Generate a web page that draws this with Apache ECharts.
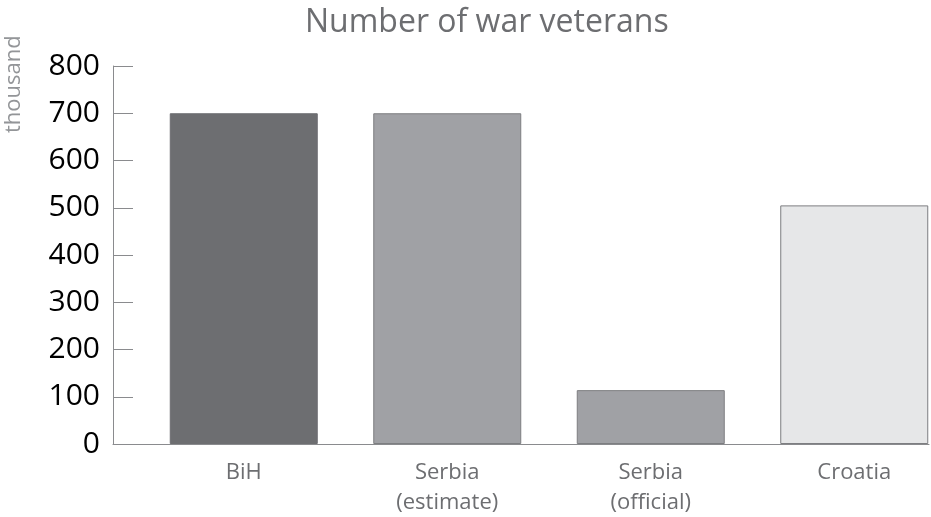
<!DOCTYPE html>
<html><head><meta charset="utf-8">
<script src="https://cdn.jsdelivr.net/npm/echarts@6/dist/echarts.min.js"></script>
<style>html,body{margin:0;padding:0;background:#fff}#c{width:931px;height:517px}</style>
</head><body><div id="c"></div>
<script>
const categories = ['BiH', 'Serbia\n(estimate)', 'Serbia\n(official)', 'Croatia'];
const values = [700, 700, 114, 505];
const barColors = ['#6d6e71', '#a0a1a5', '#a0a1a5', '#e6e7e8'];
const titleText = 'Number of war veterans';
const unitText = 'thousand';
const yMin = 0, yMax = 800, yStep = 100;

const font = '"Open Sans", Lato, sans-serif';
const chart = echarts.init(document.getElementById('c'), null, {renderer: 'canvas'});
chart.setOption({
  animation: false,
  title: {text: titleText, left: 300, top: 2, itemGap: 0,
    textStyle: {fontFamily: font, fontSize: 32, fontWeight: 'normal', color: '#6d6e71'}},
  graphic: [{type: 'text', x: 3, y: 133, rotation: Math.PI / 2,
    style: {text: unitText, font: '22px ' + font, fill: '#939598'}}],
  grid: [
    {left: 113, right: 2, top: 66, bottom: 73, outerBoundsMode: 'none', containLabel: false},
    {left: 142, width: 814, top: 66, bottom: 73, outerBoundsMode: 'none', containLabel: false}
  ],
  xAxis: [
    {gridIndex: 0, type: 'category', data: categories,
      axisLine: {lineStyle: {color: '#8a8b8e', width: 1}},
      axisTick: {show: false}, axisLabel: {show: false}},
    {gridIndex: 1, type: 'category', data: categories,
      axisLine: {show: false}, axisTick: {show: false},
      axisLabel: {fontFamily: font, fontSize: 22, color: '#6d6e71', margin: 14, lineHeight: 30}}
  ],
  yAxis: [
    {gridIndex: 0, type: 'value', min: yMin, max: yMax, interval: yStep,
      axisLine: {show: true, lineStyle: {color: '#8a8b8e', width: 1}},
      axisTick: {show: true, inside: true, length: 20, lineStyle: {color: '#8a8b8e'}},
      splitLine: {show: false},
      axisLabel: {fontFamily: font, fontSize: 30, color: '#000', margin: 13, padding: [7, 0, 0, 0]}},
    {gridIndex: 1, type: 'value', min: yMin, max: yMax, interval: yStep, show: false}
  ],
  series: [{
    type: 'bar', xAxisIndex: 1, yAxisIndex: 1, barWidth: 148,
    data: values.map((v, i) => ({value: v, itemStyle: {color: barColors[i],
      borderColor: i === 0 ? barColors[0] : '#7d7e81', borderWidth: 1}}))
  }]
});
</script></body></html>
